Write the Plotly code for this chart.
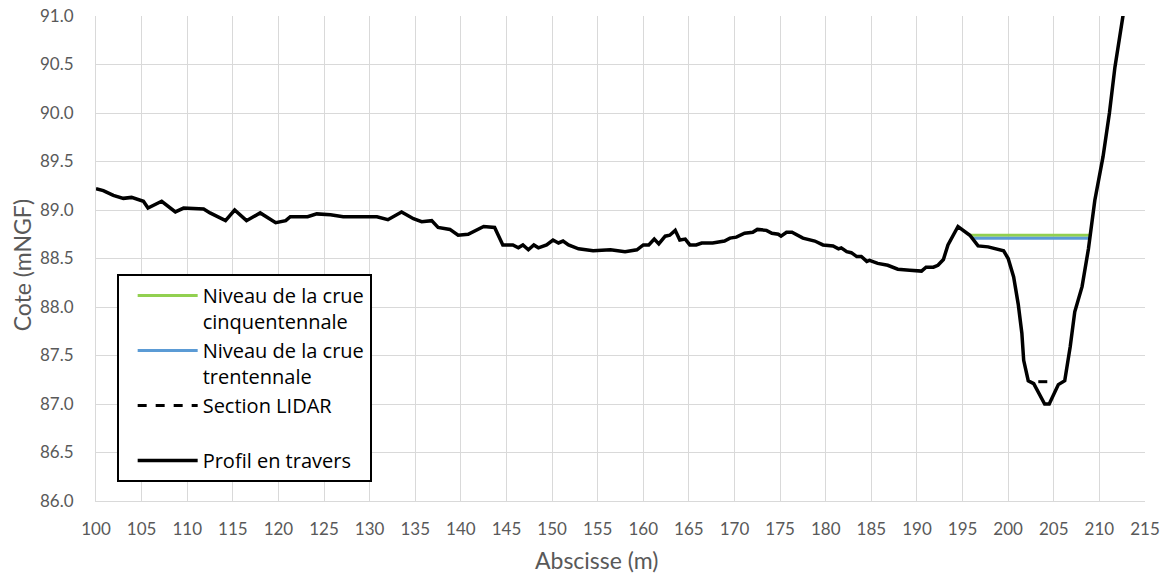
import plotly.graph_objects as go

# Cross-section profile: abscissa (m) and ground elevation (mNGF)
profil_x = [
    100.0, 100.8, 101.9, 103.0, 103.9, 105.2, 105.7, 107.2, 108.7, 109.6,
    111.8, 112.5, 114.2, 115.2, 116.5, 118.0, 119.7, 120.8, 121.3, 123.2,
    124.2, 125.7, 127.1, 130.8, 132.0, 133.5, 134.8, 135.7, 136.8, 137.5,
    138.8, 139.7, 140.8, 142.5, 143.7, 144.6, 145.7, 146.3, 146.8, 147.4,
    148.0, 148.5, 149.4, 150.1, 150.7, 151.2, 151.8, 152.9, 154.5, 156.4,
    158.0, 159.3, 160.0, 160.6, 161.2, 161.7, 162.4, 162.9, 163.5, 164.0,
    164.6, 165.1, 165.8, 166.4, 167.6, 168.9, 169.5, 170.2, 171.1, 172.0,
    172.5, 173.5, 174.1, 174.8, 175.1, 175.7, 176.3, 177.5, 178.8, 179.7,
    180.8, 181.4, 181.7, 182.3, 182.8, 183.4, 183.9, 184.5, 184.8, 185.7,
    186.8, 187.9, 189.2, 190.5, 191.0, 191.8, 192.3, 192.9, 193.4, 194.5,
    195.8, 196.7, 197.8, 198.6, 199.5, 200.0, 200.6, 201.1, 201.5, 201.7,
    202.2, 202.8, 204.0, 204.5, 205.5, 206.2, 206.8, 207.3, 208.1, 208.8,
    209.5, 210.4, 211.1, 211.7, 212.6, 213.0,
]
profil_z = [
    89.22, 89.20, 89.15, 89.12, 89.13, 89.09, 89.02, 89.09, 88.98, 89.02,
    89.01, 88.97, 88.89, 89.00, 88.89, 88.97, 88.87, 88.89, 88.93, 88.93,
    88.96, 88.95, 88.93, 88.93, 88.90, 88.98, 88.91, 88.88, 88.89, 88.82,
    88.80, 88.74, 88.75, 88.83, 88.82, 88.64, 88.64, 88.61, 88.64, 88.59,
    88.64, 88.61, 88.64, 88.69, 88.66, 88.68, 88.64, 88.60, 88.58, 88.59,
    88.57, 88.59, 88.64, 88.64, 88.70, 88.65, 88.73, 88.74, 88.79, 88.69,
    88.70, 88.64, 88.64, 88.66, 88.66, 88.68, 88.71, 88.72, 88.76, 88.77,
    88.80, 88.79, 88.76, 88.75, 88.73, 88.77, 88.77, 88.71, 88.68, 88.64,
    88.63, 88.60, 88.61, 88.57, 88.56, 88.52, 88.52, 88.47, 88.48, 88.45,
    88.43, 88.39, 88.38, 88.37, 88.41, 88.41, 88.43, 88.49, 88.64, 88.83,
    88.74, 88.63, 88.62, 88.60, 88.58, 88.50, 88.31, 88.03, 87.73, 87.45,
    87.24, 87.21, 87.00, 87.00, 87.20, 87.24, 87.59, 87.95, 88.21, 88.60,
    89.10, 89.55, 90.00, 90.47, 91.00, 91.25,
]

# Flood water levels across the channel
crue50_x = [195.8, 208.9]
crue50_z = [88.74, 88.74]
crue30_x = [196.1, 208.9]
crue30_z = [88.71, 88.71]

# LIDAR section bottom
lidar_x = [203.3, 204.6]
lidar_z = [87.23, 87.23]

x_ticks = list(range(100, 216, 5))
y_ticks = [86.0, 86.5, 87.0, 87.5, 88.0, 88.5, 89.0, 89.5, 90.0, 90.5, 91.0]

FONT = "Lato, 'Open Sans', sans-serif"
LEGEND_FONT = "'Open Sans', Lato, sans-serif"
GREY = "#595959"
GRID = "#d9d9d9"

fig = go.Figure()
fig.add_trace(go.Scatter(
    x=crue50_x, y=crue50_z, mode="lines",
    name="Niveau de la crue<br>cinquentennale",
    line=dict(color="#92d050", width=3),
))
fig.add_trace(go.Scatter(
    x=crue30_x, y=crue30_z, mode="lines",
    name="Niveau de la crue<br>trentennale",
    line=dict(color="#5b9bd5", width=3),
))
fig.add_trace(go.Scatter(
    x=lidar_x, y=lidar_z, mode="lines",
    name="Section LIDAR<br> ",
    line=dict(color="black", width=3, dash="dash"),
))
fig.add_trace(go.Scatter(
    x=profil_x, y=profil_z, mode="lines",
    name="Profil en travers",
    line=dict(color="black", width=3.5),
))

fig.update_layout(
    width=1169, height=578,
    margin=dict(l=96, r=24, t=16, b=77),
    paper_bgcolor="white", plot_bgcolor="white",
    font=dict(family=FONT, color=GREY, size=17),
    legend=dict(
        x=0.0197, y=0.468, xanchor="left", yanchor="top",
        bgcolor="white", bordercolor="black", borderwidth=2,
        font=dict(family=LEGEND_FONT, size=20, color="black"),
        valign="top", tracegroupgap=0, itemwidth=60, indentation=14,
    ),
    annotations=[
        dict(text="Abscisse (m)", xref="paper", yref="paper",
             x=0.477, y=-0.122, xanchor="center", yanchor="middle",
             showarrow=False, font=dict(family=FONT, size=23, color=GREY)),
        dict(text="Cote (mNGF)", xref="paper", yref="paper",
             x=-0.0705, y=0.486, xanchor="center", yanchor="middle",
             textangle=-90, showarrow=False,
             font=dict(family=FONT, size=23, color=GREY)),
    ],
)
fig.update_xaxes(
    range=[100, 215], tickvals=x_ticks, ticktext=[str(v) for v in x_ticks],
    showgrid=True, gridcolor=GRID, gridwidth=1,
    showline=True, linecolor=GRID, linewidth=1, mirror=False,
    zeroline=False, ticks="", ticklabelstandoff=13, automargin=False,
    tickfont=dict(size=17, color=GREY),
)
fig.update_yaxes(
    range=[86.0, 91.0], tickvals=y_ticks, ticktext=[f"{v:.1f}" for v in y_ticks],
    showgrid=True, gridcolor=GRID, gridwidth=1,
    showline=True, linecolor=GRID, linewidth=1,
    zeroline=False, ticks="", ticklabelstandoff=18, automargin=False,
    tickfont=dict(size=17, color=GREY),
)

fig.write_html("out.html")
